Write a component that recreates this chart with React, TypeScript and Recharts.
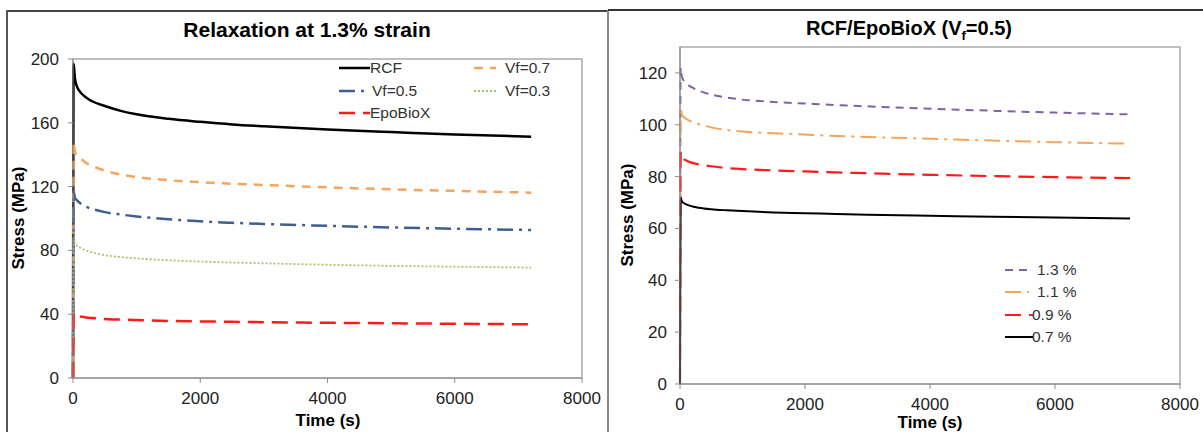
import { LineChart, Line, XAxis, YAxis, ReferenceArea } from 'recharts'

// time points (s), shared by every curve
const time = [0, 10, 30, 60, 100, 200, 300, 500, 750, 1000, 1500, 2000, 2500, 3000, 4000, 5000, 6000, 7200]

// left chart: relaxation at 1.3 % strain
const rcf = [0, 197, 188, 183, 180, 176, 173.5, 170.5, 167.5, 165.3, 162.5, 160.6, 159, 157.8, 155.8, 154.2, 152.7, 151.3]
const vf07 = [0, 148, 142, 140, 138.5, 135, 133, 130, 127.5, 126, 124, 122.8, 121.8, 121, 119.5, 118.3, 117.3, 116.2]
const vf05 = [0, 117, 113, 111.5, 110, 107.5, 106, 104, 102.5, 101.3, 99.5, 98.2, 97.3, 96.6, 95.4, 94.4, 93.6, 92.8]
const vf03 = [0, 88, 84.5, 83, 82, 80, 78.8, 77, 75.8, 75, 73.8, 73, 72.4, 71.9, 71, 70.3, 69.8, 69.2]
const epo = [0, 40.5, 39.5, 39, 38.6, 38, 37.6, 37, 36.6, 36.3, 35.8, 35.5, 35.2, 35, 34.6, 34.3, 34, 33.7]

// right chart: RCF/EpoBioX (Vf=0.5) at several strains
const s13 = [0, 122, 118.5, 117, 116, 114.3, 113.2, 111.7, 110.5, 109.7, 108.8, 108.2, 107.6, 107.1, 106.2, 105.4, 104.7, 104]
const s11 = [0, 106.5, 104, 103, 102.3, 101, 100.2, 99, 98, 97.4, 96.7, 96.2, 95.7, 95.3, 94.6, 93.9, 93.3, 92.7]
const s09 = [0, 89.5, 87.5, 86.8, 86.2, 85.3, 84.7, 84, 83.3, 82.9, 82.4, 82, 81.6, 81.3, 80.7, 80.2, 79.8, 79.4]
const s07 = [0, 72, 70.5, 69.8, 69.3, 68.5, 68, 67.4, 67, 66.7, 66.2, 65.9, 65.6, 65.3, 64.9, 64.5, 64.2, 63.8]

const timeTicks = [0, 2000, 4000, 6000, 8000]
const leftTicks = [0, 40, 80, 120, 160, 200]
const rightTicks = [0, 20, 40, 60, 80, 100, 120]

const leftData = time.map((t, i) => ({ t, rcf: rcf[i], vf07: vf07[i], vf05: vf05[i], vf03: vf03[i], epo: epo[i] }))
const rightData = time.map((t, i) => ({ t, s13: s13[i], s11: s11[i], s09: s09[i], s07: s07[i] }))

const FONT = '"Liberation Sans", Arial, sans-serif'
const AXIS = '#8c8c8c'
const tickStyle = { fontSize: 17, fill: '#222', fontFamily: FONT }

type Series = { key: string; name: string; color: string; dash?: string; width: number }

const leftSeries: Series[] = [
  { key: 'rcf', name: 'RCF', color: '#000000', width: 2.5 },
  { key: 'vf07', name: 'Vf=0.7', color: '#f5a55c', dash: '9 7', width: 2.5 },
  { key: 'vf05', name: 'Vf=0.5', color: '#3e5f8f', dash: '16 6 3 6', width: 2.5 },
  { key: 'vf03', name: 'Vf=0.3', color: '#a8c46a', dash: '2 2', width: 1.8 },
  { key: 'epo', name: 'EpoBioX', color: '#ff1a1a', dash: '16 8', width: 2.5 },
]

const rightSeries: Series[] = [
  { key: 's13', name: '1.3 %', color: '#8064a2', dash: '8 6', width: 2 },
  { key: 's11', name: '1.1 %', color: '#f5a55c', dash: '16 6 3 6', width: 2 },
  { key: 's09', name: '0.9 %', color: '#ff1a1a', dash: '16 8', width: 2.2 },
  { key: 's07', name: '0.7 %', color: '#000000', width: 2 },
]

function LegendItem({ s, x, y, lineW, textX }: { s: Series; x: number; y: number; lineW: number; textX: number }) {
  return (
    <>
      <svg style={{ position: 'absolute', left: x, top: y - 3 }} width={lineW} height={6}>
        <line x1={0} y1={3} x2={lineW} y2={3} stroke={s.color} strokeWidth={s.width} strokeDasharray={s.dash} />
      </svg>
      <div style={{ position: 'absolute', left: textX, top: y - 10, fontSize: 15.5, lineHeight: '20px', color: '#333', whiteSpace: 'nowrap' }}>
        {s.name}
      </div>
    </>
  )
}

function Text({ x, y, size = 17, children, rotate = false }: { x: number; y: number; size?: number; children: React.ReactNode; rotate?: boolean }) {
  return (
    <div
      style={{
        position: 'absolute', left: x, top: y, fontSize: size, fontWeight: 'bold', color: '#000', whiteSpace: 'nowrap',
        transform: `translate(-50%, -50%)${rotate ? ' rotate(-90deg)' : ''}`,
      }}
    >
      {children}
    </div>
  )
}

export default function App() {
  return (
    <div style={{ position: 'absolute', left: 0, top: 0, width: 1203, height: 432, overflow: 'hidden', background: '#fff', fontFamily: FONT }}>
      {/* panel frames */}
      <div style={{ position: 'absolute', left: 6, top: 10, width: 602, height: 1.5, background: '#444' }} />
      <div style={{ position: 'absolute', left: 6, top: 10, width: 1.5, height: 430, background: '#555' }} />
      <div style={{ position: 'absolute', left: 607, top: 10, width: 1.5, height: 430, background: '#888' }} />
      <div style={{ position: 'absolute', left: 608, top: 9, width: 595, height: 2, background: '#333' }} />

      <div style={{ position: 'absolute', left: 0, top: 0 }}>
        <LineChart width={610} height={432} data={leftData} margin={{ top: 59, right: 28, bottom: 24, left: 0 }}>
          <XAxis dataKey="t" type="number" domain={[0, 8000]} ticks={timeTicks} height={30} tickSize={5} tickMargin={9}
            axisLine={{ stroke: AXIS }} tickLine={{ stroke: AXIS }} tick={tickStyle} />
          <YAxis type="number" domain={[0, 200]} ticks={leftTicks} width={73} tickSize={5} tickMargin={9}
            axisLine={{ stroke: AXIS }} tickLine={{ stroke: AXIS }} tick={tickStyle} />
          <ReferenceArea x1={0} x2={8000} y1={0} y2={200} fill="none" stroke="#aaa" strokeWidth={1.5} />
          {leftSeries.map((s) => (
            <Line key={s.key} dataKey={s.key} type="monotone" stroke={s.color} strokeWidth={s.width}
              strokeDasharray={s.dash} dot={false} isAnimationActive={false} />
          ))}
        </LineChart>
      </div>

      <div style={{ position: 'absolute', left: 610, top: 0 }}>
        <LineChart width={593} height={432} data={rightData} margin={{ top: 47, right: 23, bottom: 18, left: 0 }}>
          <XAxis dataKey="t" type="number" domain={[0, 8000]} ticks={timeTicks} height={30} tickSize={5} tickMargin={9}
            axisLine={{ stroke: AXIS }} tickLine={{ stroke: AXIS }} tick={tickStyle} />
          <YAxis type="number" domain={[0, 130]} ticks={rightTicks} width={70} tickSize={5} tickMargin={8}
            axisLine={{ stroke: AXIS }} tickLine={{ stroke: AXIS }} tick={tickStyle} />
          <ReferenceArea x1={0} x2={8000} y1={0} y2={130} fill="none" stroke="#aaa" strokeWidth={1.5} />
          {rightSeries.map((s) => (
            <Line key={s.key} dataKey={s.key} type="monotone" stroke={s.color} strokeWidth={s.width}
              strokeDasharray={s.dash} dot={false} isAnimationActive={false} />
          ))}
        </LineChart>
      </div>

      {/* titles and axis titles */}
      <Text x={307} y={30} size={21}>Relaxation at 1.3% strain</Text>
      <Text x={328} y={421}>Time (s)</Text>
      <Text x={19} y={218} rotate>Stress (MPa)</Text>

      <Text x={909} y={30} size={20}>
        RCF/EpoBioX (V<sub style={{ fontSize: 13 }}>f</sub>=0.5)
      </Text>
      <Text x={930} y={423}>Time (s)</Text>
      <Text x={628} y={215} rotate>Stress (MPa)</Text>

      {/* legends */}
      <LegendItem s={leftSeries[0]} x={339} y={68} lineW={31} textX={370} />
      <LegendItem s={leftSeries[1]} x={474} y={68} lineW={22} textX={505} />
      <LegendItem s={leftSeries[2]} x={339} y={91} lineW={28} textX={372} />
      <LegendItem s={leftSeries[3]} x={474} y={91} lineW={24} textX={505} />
      <LegendItem s={leftSeries[4]} x={339} y={113} lineW={31} textX={370} />

      <LegendItem s={rightSeries[0]} x={1005} y={270} lineW={22} textX={1037} />
      <LegendItem s={rightSeries[1]} x={1005} y={292} lineW={24} textX={1037} />
      <LegendItem s={rightSeries[2]} x={1005} y={315} lineW={28} textX={1032} />
      <LegendItem s={rightSeries[3]} x={1005} y={337} lineW={28} textX={1032} />
    </div>
  )
}
